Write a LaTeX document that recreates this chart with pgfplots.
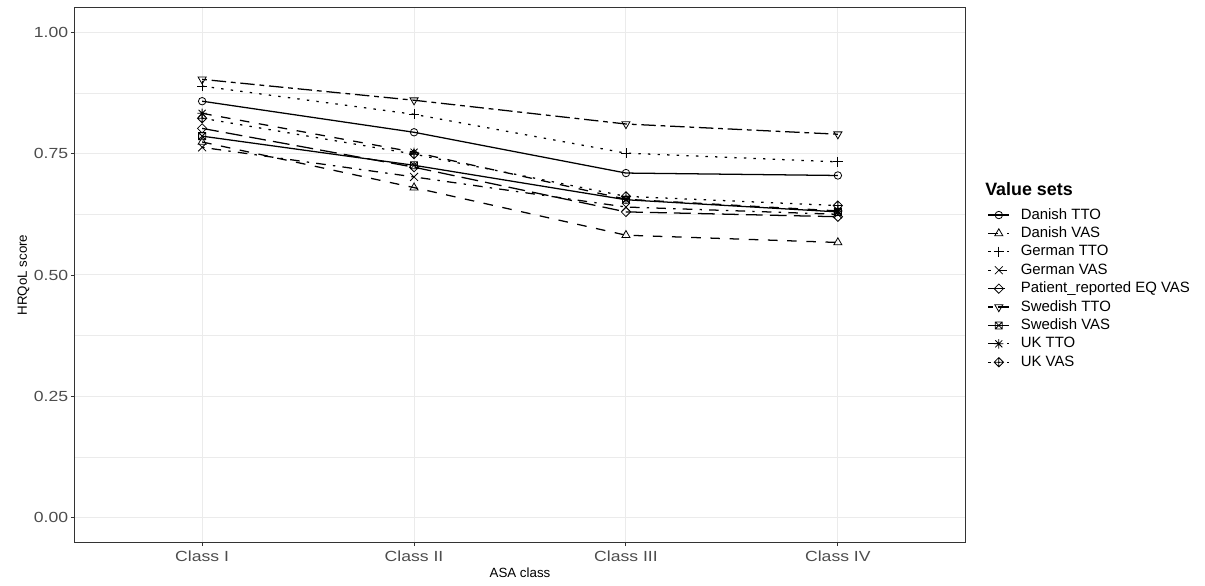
\documentclass[border=0pt]{standalone}
\usepackage{fontspec}
\setmainfont{Liberation Sans}
\newfontfamily\tickfont{Liberation Sans}[FakeStretch=1.2]
\usepackage{pgfplots}
\pgfplotsset{compat=1.18}
\definecolor{gray20}{HTML}{333333}
\definecolor{gray30}{HTML}{4D4D4D}
\definecolor{gray92}{HTML}{EBEBEB}

\pgfdeclareplotmark{tridown}{%
  \pgfpathmoveto{\pgfpoint{0pt}{-\pgfplotmarksize}}%
  \pgfpathlineto{\pgfpoint{0.866\pgfplotmarksize}{0.5\pgfplotmarksize}}%
  \pgfpathlineto{\pgfpoint{-0.866\pgfplotmarksize}{0.5\pgfplotmarksize}}%
  \pgfpathclose\pgfusepathqstroke}
\pgfdeclareplotmark{triup}{%
  \pgfpathmoveto{\pgfpoint{0pt}{\pgfplotmarksize}}%
  \pgfpathlineto{\pgfpoint{0.866\pgfplotmarksize}{-0.5\pgfplotmarksize}}%
  \pgfpathlineto{\pgfpoint{-0.866\pgfplotmarksize}{-0.5\pgfplotmarksize}}%
  \pgfpathclose\pgfusepathqstroke}
\pgfdeclareplotmark{squarex}{%
  \pgfpathrectangle{\pgfpoint{-0.85\pgfplotmarksize}{-0.85\pgfplotmarksize}}{\pgfpoint{1.7\pgfplotmarksize}{1.7\pgfplotmarksize}}%
  \pgfpathmoveto{\pgfpoint{-0.85\pgfplotmarksize}{-0.85\pgfplotmarksize}}%
  \pgfpathlineto{\pgfpoint{0.85\pgfplotmarksize}{0.85\pgfplotmarksize}}%
  \pgfpathmoveto{\pgfpoint{-0.85\pgfplotmarksize}{0.85\pgfplotmarksize}}%
  \pgfpathlineto{\pgfpoint{0.85\pgfplotmarksize}{-0.85\pgfplotmarksize}}%
  \pgfusepathqstroke}
\pgfdeclareplotmark{diamondplus}{%
  \pgfpathmoveto{\pgfpoint{0pt}{1.2\pgfplotmarksize}}%
  \pgfpathlineto{\pgfpoint{1.2\pgfplotmarksize}{0pt}}%
  \pgfpathlineto{\pgfpoint{0pt}{-1.2\pgfplotmarksize}}%
  \pgfpathlineto{\pgfpoint{-1.2\pgfplotmarksize}{0pt}}%
  \pgfpathclose
  \pgfpathmoveto{\pgfpoint{0pt}{1.2\pgfplotmarksize}}%
  \pgfpathlineto{\pgfpoint{0pt}{-1.2\pgfplotmarksize}}%
  \pgfpathmoveto{\pgfpoint{-1.2\pgfplotmarksize}{0pt}}%
  \pgfpathlineto{\pgfpoint{1.2\pgfplotmarksize}{0pt}}%
  \pgfusepathqstroke}
\pgfdeclareplotmark{diamondo}{%
  \pgfpathmoveto{\pgfpoint{0pt}{1.2\pgfplotmarksize}}%
  \pgfpathlineto{\pgfpoint{1.2\pgfplotmarksize}{0pt}}%
  \pgfpathlineto{\pgfpoint{0pt}{-1.2\pgfplotmarksize}}%
  \pgfpathlineto{\pgfpoint{-1.2\pgfplotmarksize}{0pt}}%
  \pgfpathclose\pgfusepathqstroke}
\pgfdeclareplotmark{star8}{%
  \pgfpathmoveto{\pgfpoint{0pt}{\pgfplotmarksize}}%
  \pgfpathlineto{\pgfpoint{0pt}{-\pgfplotmarksize}}%
  \pgfpathmoveto{\pgfpoint{-\pgfplotmarksize}{0pt}}%
  \pgfpathlineto{\pgfpoint{\pgfplotmarksize}{0pt}}%
  \pgfpathmoveto{\pgfpoint{-0.75\pgfplotmarksize}{-0.75\pgfplotmarksize}}%
  \pgfpathlineto{\pgfpoint{0.75\pgfplotmarksize}{0.75\pgfplotmarksize}}%
  \pgfpathmoveto{\pgfpoint{-0.75\pgfplotmarksize}{0.75\pgfplotmarksize}}%
  \pgfpathlineto{\pgfpoint{0.75\pgfplotmarksize}{-0.75\pgfplotmarksize}}%
  \pgfusepathqstroke}
\pgfdeclareplotmark{plusr}{%
  \pgfpathmoveto{\pgfpoint{0pt}{1.1\pgfplotmarksize}}%
  \pgfpathlineto{\pgfpoint{0pt}{-1.1\pgfplotmarksize}}%
  \pgfpathmoveto{\pgfpoint{-1.1\pgfplotmarksize}{0pt}}%
  \pgfpathlineto{\pgfpoint{1.1\pgfplotmarksize}{0pt}}%
  \pgfusepathqstroke}
\pgfdeclareplotmark{crossr}{%
  \pgfpathmoveto{\pgfpoint{-0.8\pgfplotmarksize}{-0.8\pgfplotmarksize}}%
  \pgfpathlineto{\pgfpoint{0.8\pgfplotmarksize}{0.8\pgfplotmarksize}}%
  \pgfpathmoveto{\pgfpoint{-0.8\pgfplotmarksize}{0.8\pgfplotmarksize}}%
  \pgfpathlineto{\pgfpoint{0.8\pgfplotmarksize}{-0.8\pgfplotmarksize}}%
  \pgfusepathqstroke}

\tikzset{
  ldashed/.style={dash pattern=on 7.2pt off 7.2pt},
  ldotted/.style={dash pattern=on 1.8pt off 5.4pt},
  ldotdash/.style={dash pattern=on 1.8pt off 5.4pt on 7.2pt off 5.4pt},
  llongdash/.style={dash pattern=on 12.6pt off 5.4pt},
  ltwodash/.style={dash pattern=on 3.6pt off 3.6pt on 10.8pt off 3.6pt},
}

\begin{document}
\begin{tikzpicture}
\begin{axis}[
  scale only axis,
  width=667.5pt, height=400.5pt,
  xmin=0.4, xmax=4.6, ymin=-0.05, ymax=1.05,
  xtick={1,2,3,4},
  xticklabels={Class I, Class II, Class III, Class IV},
  ytick={0,0.25,0.5,0.75,1},
  minor ytick={0.125,0.375,0.625,0.875},
  xtick pos=bottom, ytick pos=left,
  yticklabel style={xshift=1.4pt, /pgf/number format/fixed, /pgf/number format/fixed zerofill, /pgf/number format/precision=2, /pgf/number format/assume math mode=true},
  ticklabel style={font=\tickfont\fontsize{11}{13}\selectfont, text=gray30},
  tick align=outside,
  major tick length=3pt,
  minor tick length=0pt,
  tick style={gray20, line width=0.7pt},
  axis line style={gray20, line width=0.75pt},
  grid=both,
  major grid style={gray92, line width=0.75pt},
  minor grid style={gray92, line width=0.4pt},
  xlabel={ASA class},
  ylabel={HRQoL score},
  label style={font=\fontsize{10}{12}\selectfont},
  xlabel style={yshift=2pt},
  ylabel style={yshift=-3.5pt},
  every axis plot/.append style={black, line width=0.95pt, mark size=2.8pt, mark options={solid, line width=0.6pt}},
  legend style={draw=none, fill=none, inner sep=0pt, at={(1.025,0.625)}, anchor=north west,
    font=\fontsize{11.2}{13}\selectfont, row sep=4pt, column sep=8pt,
    nodes={inner sep=0pt, text height=8pt, text depth=1.8pt}},
  legend cell align=left,
  legend image code/.code={%
    \draw[mark repeat=2, mark phase=2] plot coordinates {(0pt,0pt) (8pt,0pt) (16pt,0pt)};
  },
  clip=false,
]
% Danish TTO
\addplot[mark=o] coordinates {(1,0.858) (2,0.794) (3,0.710) (4,0.705)};
\addlegendentry{Danish TTO}
% Danish VAS
\addplot[ldashed, mark=triup, mark size=3.5pt] coordinates {(1,0.774) (2,0.680) (3,0.582) (4,0.567)};
\addlegendentry{Danish VAS}
% German TTO
\addplot[ldotted, mark=plusr, mark size=3.5pt] coordinates {(1,0.889) (2,0.831) (3,0.751) (4,0.733)};
\addlegendentry{German TTO}
% German VAS
\addplot[ldotdash, mark=crossr, mark size=3.7pt] coordinates {(1,0.763) (2,0.702) (3,0.640) (4,0.625)};
\addlegendentry{German VAS}
% Patient reported
\addplot[llongdash, mark=diamondo, mark size=2.9pt] coordinates {(1,0.802) (2,0.722) (3,0.630) (4,0.620)};
\addlegendentry{Patient\_reported EQ VAS}
% Swedish TTO
\addplot[ltwodash, mark=tridown, mark size=3.5pt] coordinates {(1,0.903) (2,0.860) (3,0.811) (4,0.790)};
\addlegendentry{Swedish TTO}
% Swedish VAS
\addplot[mark=squarex, mark size=3.1pt] coordinates {(1,0.786) (2,0.726) (3,0.655) (4,0.630)};
\addlegendentry{Swedish VAS}
% UK TTO
\addplot[ldashed, mark=star8, mark size=3.5pt] coordinates {(1,0.833) (2,0.753) (3,0.656) (4,0.632)};
\addlegendentry{UK TTO}
% UK VAS
\addplot[ldotted, mark=diamondplus, mark size=2.9pt] coordinates {(1,0.823) (2,0.749) (3,0.662) (4,0.643)};
\addlegendentry{UK VAS}
\node[anchor=west, font=\fontsize{13.4}{16}\selectfont\bfseries, inner sep=0pt] at (axis description cs:1.0225,0.661) {Value sets};
\end{axis}
\pgfresetboundingbox
\path[use as bounding box] ([shift={(-56.25pt,-32.25pt)}]current axis.south west) rectangle ([shift={(180pt,6pt)}]current axis.north east);
\end{tikzpicture}
\end{document}
